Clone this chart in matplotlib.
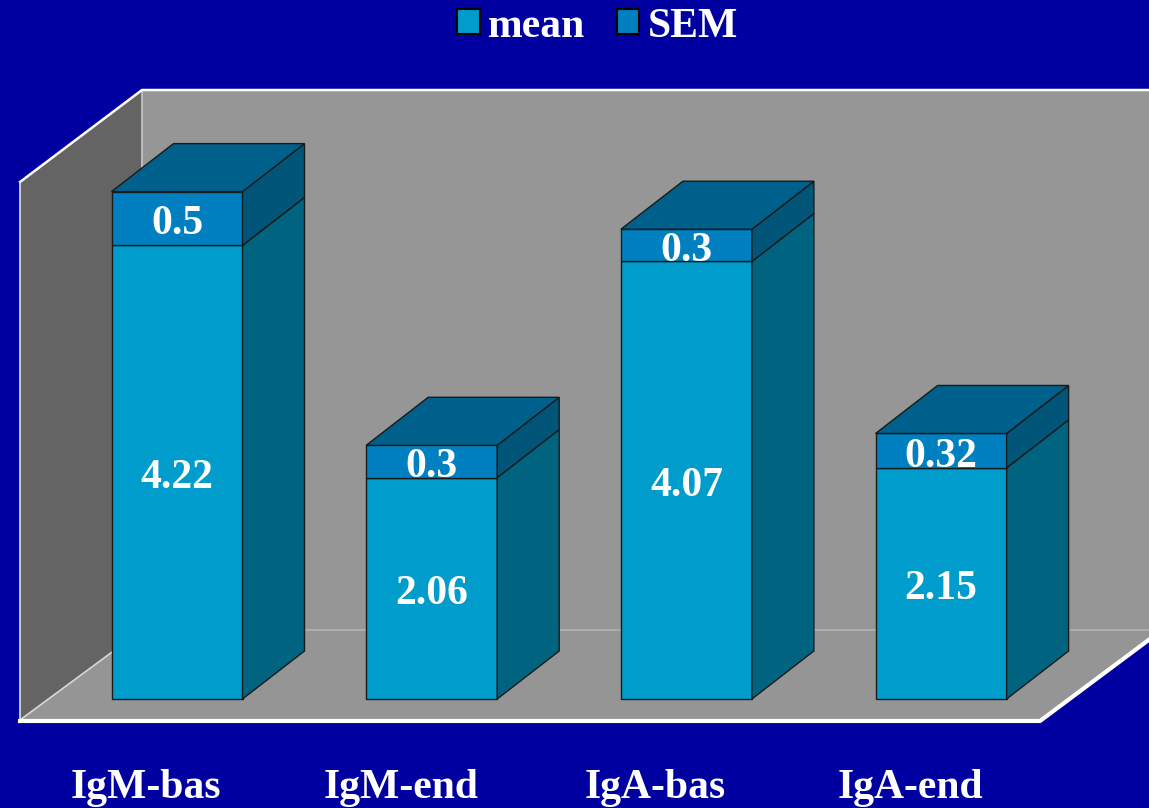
import matplotlib.pyplot as plt
from matplotlib.patches import Polygon, Patch

categories = ['IgM-bas', 'IgM-end', 'IgA-bas', 'IgA-end']
mean_vals = [4.22, 2.06, 4.07, 2.15]
sem_vals = [0.5, 0.3, 0.3, 0.32]

BG = '#0000a0'
MEAN_FRONT, MEAN_SIDE = '#009ccc', '#006380'
SEM_FRONT, SEM_SIDE = '#0080c0', '#005578'
TOP = '#00608c'

# pixel layout -> data units (category spacing 254.7 px, 107.5 px per unit)
def X(px):
    return (px - 177) / 254.7

def Y(py):
    return (699 - py) / 107.5

width = 131 / 254.7
dx = 62 / 254.7
dy = 48 / 107.5
txt_off = 6 / 107.5  # nudge labels down a little

fig = plt.figure(figsize=(11.49, 8.08), dpi=100, facecolor=BG)
ax = fig.add_axes([0, 0, 1, 1])
ax.set_xlim(X(0), X(1149))
ax.set_ylim(Y(808), Y(0))
ax.axis('off')

def poly(pts, fc, ec='none', lw=0, z=1):
    ax.add_patch(Polygon([(X(a), Y(b)) for a, b in pts], closed=True,
                         facecolor=fc, edgecolor=ec, linewidth=lw, zorder=z))

# walls and floor
poly([(142, 90), (1170, 90), (1170, 630), (142, 630)], '#969696')
poly([(20, 720), (1040, 720), (1162, 630), (142, 630)], '#959595')
poly([(142, 90), (20, 182), (20, 720), (142, 630)], '#646464')
ax.plot([X(142), X(1170)], [Y(630), Y(630)], color='#b4b4b4', lw=1.2, zorder=1.5)
ax.plot([X(142), X(142)], [Y(90), Y(630)], color='#c8c8c8', lw=1.2, zorder=1.5)
ax.plot([X(20), X(142)], [Y(720), Y(630)], color='#d8d8d8', lw=1.2, zorder=1.5)
ax.plot([X(20), X(142), X(1170)], [Y(182), Y(90), Y(90)], color='white', lw=1.8, zorder=1.5)
ax.plot([X(20), X(20)], [Y(182), Y(720)], color='#e0e0e0', lw=1.2, zorder=1.5)
ax.plot([X(20), X(1040), X(1162)], [Y(721), Y(721), Y(630)], color='white', lw=3, zorder=1.5)

# bars
ec = '#1a1a1a'
font = dict(color='white', fontsize=30, fontweight='bold', family='Liberation Serif',
            ha='center', va='center', zorder=4)
for i, (m, s) in enumerate(zip(mean_vals, sem_vals)):
    x0, x1 = i - width / 2, i + width / 2
    for b, t, front, side in [(0, m, MEAN_FRONT, MEAN_SIDE), (m, m + s, SEM_FRONT, SEM_SIDE)]:
        ax.add_patch(Polygon([(x0, b), (x1, b), (x1, t), (x0, t)], facecolor=front,
                             edgecolor=ec, lw=1, zorder=3))
        ax.add_patch(Polygon([(x1, b), (x1 + dx, b + dy), (x1 + dx, t + dy), (x1, t)],
                             facecolor=side, edgecolor=ec, lw=1, zorder=3))
    t = m + s
    ax.add_patch(Polygon([(x0, t), (x0 + dx, t + dy), (x1 + dx, t + dy), (x1, t)],
                         facecolor=TOP, edgecolor=ec, lw=1, zorder=3))
    ax.text(i, m / 2 - txt_off, f'{m:g}', **font)
    ax.text(i, m + s / 2 - txt_off, f'{s:g}', **font)
    ax.text(i - 0.122, Y(788), categories[i], **font)

handles = [Patch(facecolor=MEAN_FRONT, edgecolor='black', lw=1.5, label='mean'),
           Patch(facecolor=SEM_FRONT, edgecolor='black', lw=1.5, label='SEM')]
leg = ax.legend(handles=handles, loc='upper center', bbox_to_anchor=(0.52, 1.037), ncol=2,
                frameon=False, handlelength=0.55, handleheight=0.55, handletextpad=0.2,
                columnspacing=0.75, prop={'family': 'Liberation Serif', 'weight': 'bold', 'size': 30})
for txt in leg.get_texts():
    txt.set_color('white')

fig.savefig('out.png', dpi=100, facecolor=BG)
